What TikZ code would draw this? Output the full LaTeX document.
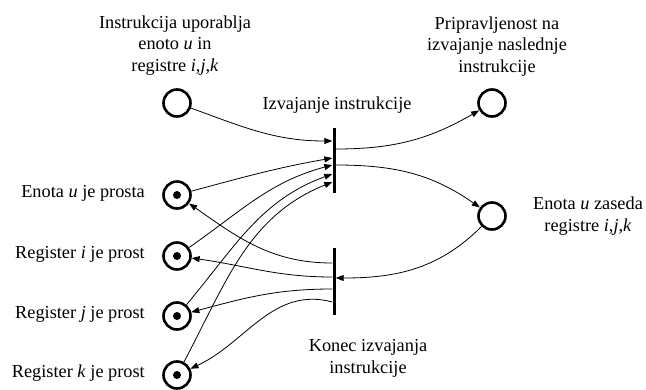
\documentclass[tikz,border=0pt]{standalone}
\usepackage{fontspec}
\setmainfont{Liberation Serif}
\usetikzlibrary{arrows.meta}
\begin{document}
\begin{tikzpicture}[x=1pt,y=1pt,
  place/.style={circle,draw,line width=2.6pt,minimum size=27pt,inner sep=0pt},
  bar/.style={fill=black,inner sep=0pt,minimum width=3pt},
  arc/.style={line width=0.8pt,-{Triangle[length=8pt,width=6pt]}},
  token/.style={fill=black},
  lbl/.style={font=\fontsize{18.3}{21.5}\selectfont,align=center,inner sep=0pt}]
\useasboundingbox (0,0) rectangle (646,-389);
% places
\node[place] (tl) at (177,-103) {};
\node[place] (eu) at (177,-195) {};
\node[place] (ri) at (177,-256) {};
\node[place] (rj) at (177,-316) {};
\node[place] (rk) at (177,-375) {};
\node[place] (tr) at (492,-103) {};
\node[place] (ez) at (492,-216) {};
\foreach \p in {eu,ri,rj,rk} \fill[token] (\p.center) circle[radius=4pt];
% transitions
\node[bar,minimum height=65pt] (t1) at (334,-160.5) {};
\node[bar,minimum height=67pt] (t2) at (334,-281.5) {};
% arcs into t1
\draw[arc] (tl) to[out=-20,in=180] ([yshift=19.5pt]t1.west);
\draw[arc] (eu) to[out=15,in=190] ([yshift=2.5pt]t1.west);
\draw[arc] (ri) to[out=35,in=195] ([yshift=-4.5pt]t1.west);
\draw[arc] (rj) to[out=50,in=200] ([yshift=-13.5pt]t1.west);
\draw[arc] (rk) to[out=62,in=202] ([yshift=-21.5pt]t1.west);
% arcs out of t1
\draw[arc] ([yshift=11.5pt]t1.east) to[out=0,in=210] (tr);
\draw[arc] ([yshift=-4.5pt]t1.east) to[out=0,in=145] (ez);
% arcs into / out of t2
\draw[arc] (ez) to[out=225,in=0] ([yshift=3.5pt]t2.east);
\draw[arc] ([yshift=18.5pt]t2.west) to[out=180,in=-35] (eu);
\draw[arc] ([yshift=4.5pt]t2.west) to[out=180,in=-8] (ri);
\draw[arc] ([yshift=-7.5pt]t2.west) to[out=180,in=15] (rj);
\draw[arc] ([yshift=-20.5pt]t2.west) to[out=165,in=25] (rk);
% labels (base anchor = baseline of last line)
\node[lbl,anchor=base] (ltl) at (175,-71) {Instrukcija uporablja\\enoto \textit{u} in\\registre \textit{i},\textit{j},\textit{k}};
\node[lbl,anchor=base] (ltr) at (497,-72) {Pripravljenost na\\izvajanje naslednje\\instrukcije};
\node[lbl,anchor=base] (lt1) at (337,-109) {Izvajanje instrukcije};
\node[lbl,anchor=base] (lt2) at (368,-373) {Konec izvajanja\\instrukcije};
\node[lbl,anchor=base] (lez) at (588,-231) {Enota \textit{u} zaseda\\registre \textit{i},\textit{j},\textit{k}};
\node[lbl,anchor=base east] (leu) at (145,-197) {Enota \textit{u} je prosta};
\node[lbl,anchor=base east] (lri) at (145,-258) {Register \textit{i} je prost};
\node[lbl,anchor=base east] (lrj) at (145,-318) {Register \textit{j} je prost};
\node[lbl,anchor=base east] (lrk) at (145,-377) {Register \textit{k} je prost};
\end{tikzpicture}
\end{document}
